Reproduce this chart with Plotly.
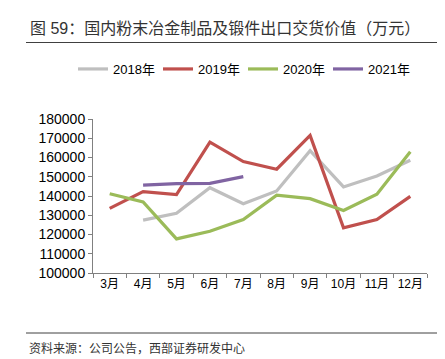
import plotly.graph_objects as go

months = ["3月", "4月", "5月", "6月", "7月", "8月", "9月", "10月", "11月", "12月"]
s2018 = [None, 127500, 131000, 144300, 136000, 142600, 163500, 144700, 150400, 158600]
s2019 = [133600, 142300, 140700, 168000, 157900, 153900, 171500, 123500, 127800, 139800]
s2020 = [141200, 136900, 117700, 121700, 127800, 140400, 138600, 132500, 140900, 163000]
s2021 = [None, 145600, 146400, 146600, 150100, None, None, None, None, None]
y_ticks = [100000, 110000, 120000, 130000, 140000, 150000, 160000, 170000, 180000]

title_text = "图 59：国内粉末冶金制品及锻件出口交货价值（万元）"
source_text = "资料来源：公司公告，西部证券研发中心"

W, H = 445, 359
L, R, T, B = 85, 26, 111, 94
pw, ph = W - L - R, H - T - B

def px(x):
    return (x - L) / pw

def py(y):
    return (H - B - y) / ph

fig = go.Figure()
series = [("2018年", s2018, "#BFBFBF"), ("2019年", s2019, "#C0504D"),
          ("2020年", s2020, "#9BBB59"), ("2021年", s2021, "#8064A2")]
for name, vals, col in series:
    fig.add_trace(go.Scatter(x=months, y=vals, name=name, mode="lines",
                             line=dict(color=col, width=3.2), connectgaps=False))

font_family = "Liberation Sans, Arial, Noto Sans CJK SC, sans-serif"
fig.update_layout(
    width=W, height=H,
    margin=dict(l=L, r=R, t=T, b=B),
    paper_bgcolor="white", plot_bgcolor="white",
    font=dict(family=font_family, size=13, color="#000000"),
    showlegend=True,
    legend=dict(orientation="h", x=px(65), y=py(61), xanchor="left", yanchor="middle",
                font=dict(size=13, color="#000000"),
                entrywidth=40, entrywidthmode="pixels", itemwidth=30,
                bgcolor="rgba(0,0,0,0)", tracegroupgap=0),
    xaxis=dict(type="category", showgrid=False, showline=True, linecolor="#808080",
               linewidth=1, ticks="outside", ticklen=4, tickcolor="#808080",
               tickson="boundaries", tickfont=dict(size=12), tickangle=0,
               range=[-0.5, 9.5]),
    yaxis=dict(range=[100000, 180000], tickvals=y_ticks, showgrid=False, showline=True,
               linecolor="#808080", linewidth=1, ticks="outside", ticklen=4,
               tickcolor="#808080", tickfont=dict(size=14), zeroline=False,
               tickformat="d"),
)

fig.add_annotation(text=title_text, xref="paper", yref="paper", x=px(20), y=py(21),
                   xanchor="left", yanchor="middle", showarrow=False,
                   font=dict(size=16, color="#333333"))
fig.add_annotation(text=source_text, xref="paper", yref="paper", x=px(19), y=py(340),
                   xanchor="left", yanchor="middle", showarrow=False,
                   font=dict(size=12, color="#333333"))
fig.add_shape(type="line", xref="paper", yref="paper", x0=px(18), x1=px(435),
              y0=py(34.5), y1=py(34.5), line=dict(color="#404040", width=1))
fig.add_shape(type="line", xref="paper", yref="paper", x0=px(18), x1=px(435),
              y0=py(325), y1=py(325), line=dict(color="#404040", width=1))

fig.write_html("out.html")
